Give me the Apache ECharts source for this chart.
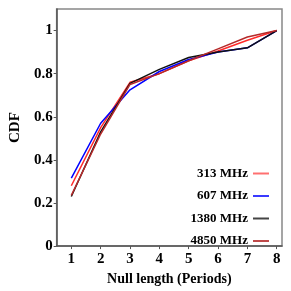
<!DOCTYPE html>
<html><head><meta charset="utf-8">
<script src="https://cdn.jsdelivr.net/npm/echarts@6/dist/echarts.min.js"></script>
<style>html,body{margin:0;padding:0;background:#fff}#c{width:291px;height:291px}</style>
</head><body><div id="c"></div>
<script>
var xValues = [1, 2, 3, 4, 5, 6, 7, 8];
var seriesNames = ['313 MHz', '607 MHz', '1380 MHz', '4850 MHz'];
var s313 = [0.28, 0.55, 0.76, 0.80, 0.86, 0.905, 0.955, 1.0];
var s607 = [0.315, 0.57, 0.725, 0.81, 0.866, 0.90, 0.92, 1.0];
var s1380 = [0.23, 0.53, 0.755, 0.82, 0.875, 0.90, 0.92, 1.0];
var s4850 = [0.235, 0.52, 0.75, 0.80, 0.86, 0.915, 0.97, 1.0];
var yTicks = [0, 0.2, 0.4, 0.6, 0.8, 1];
var colors = ['#ff2a2a', '#0000ff', '#111111', '#b52a2a'];
var legendColors = ['#ff7070', '#3a3aff', '#444444', '#c04a4a'];
var allData = [s313, s607, s1380, s4850];
var font = 'Liberation Serif';
var chart = echarts.init(document.getElementById('c'));
chart.setOption({
  animation: false,
  grid: {left: 32, top: 9, right: 9, bottom: 34, show: true, borderColor: '#888', borderWidth: 1.5},
  legend: {
    orient: 'vertical', right: 17, top: 161, align: 'right',
    itemWidth: 16, itemHeight: 2, itemGap: 7.5,
    textStyle: {fontFamily: font, fontWeight: 'bold', fontSize: 13, color: '#000', lineHeight: 15, height: 15},
    data: seriesNames.map(function(n, i){ return {name: n, icon: 'rect', itemStyle:{color: legendColors[i]}}; })
  },
  xAxis: {
    type: 'value', min: 0.5, max: 8.18,
    name: 'Null length (Periods)', nameLocation: 'middle', nameGap: 25,
    nameTextStyle: {fontFamily: font, fontWeight: 'bold', fontSize: 14, color: '#000'},
    axisLine: {lineStyle: {color: '#555', width: 1.5}},
    axisTick: {show: true, customValues: xValues, length: 3, lineStyle: {color: '#555'}},
    axisLabel: {customValues: xValues, fontFamily: font, fontWeight: 'bold', fontSize: 15, color: '#000', margin: 6},
    splitLine: {show: false}
  },
  yAxis: {
    type: 'value', min: 0, max: 1.1,
    name: 'CDF', nameLocation: 'middle', nameGap: 24, nameRotate: 90,
    nameTextStyle: {fontFamily: font, fontWeight: 'bold', fontSize: 15, color: '#000'},
    axisLine: {show: true, lineStyle: {color: '#555', width: 1.5}},
    axisTick: {show: true, customValues: yTicks, length: 3, lineStyle: {color: '#555'}},
    axisLabel: {customValues: yTicks, fontFamily: font, fontWeight: 'bold', fontSize: 15, color: '#000', margin: 4},
    splitLine: {show: false}
  },
  series: seriesNames.map(function(n, i){
    return {
      name: n, type: 'line', symbol: 'none',
      data: xValues.map(function(x, j){ return [x, allData[i][j]]; }),
      lineStyle: {color: colors[i], width: 1.5},
      itemStyle: {color: colors[i]}
    };
  })
});
</script></body></html>
